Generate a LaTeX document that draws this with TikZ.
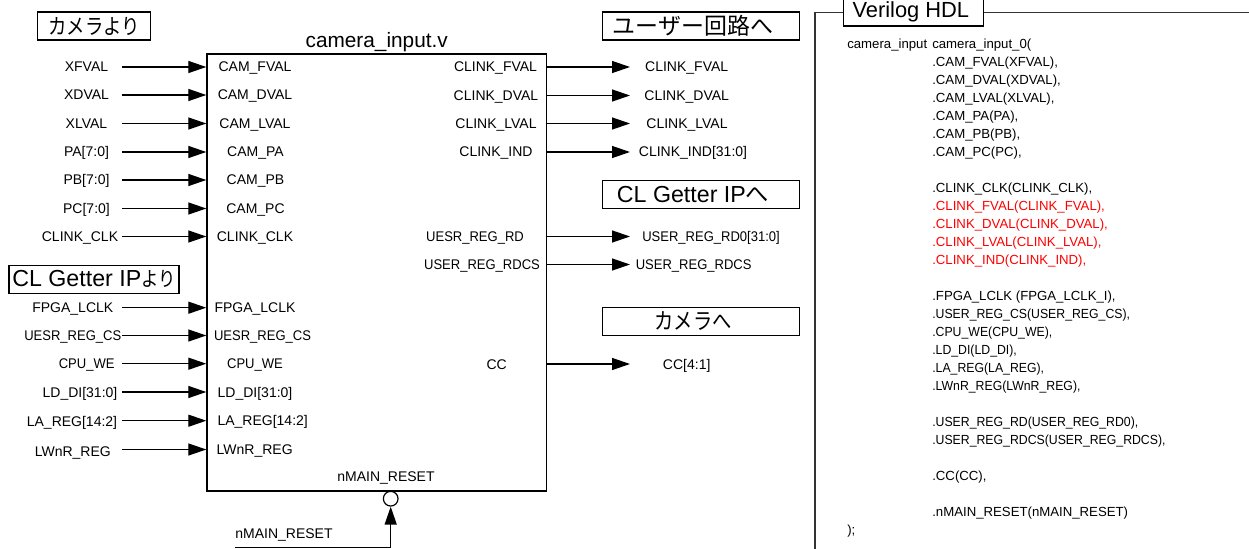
\documentclass[tikz,border=0pt]{standalone}
\usepackage{fontspec}
\setmainfont{Liberation Sans}
\newfontfamily\cjk{Noto Sans CJK JP}
\newfontfamily\cjknarrow{Noto Sans CJK JP}[FakeStretch=0.85]
\newfontfamily\tightf{Liberation Sans}[FakeStretch=0.93]
\usepackage{tikz}
\usetikzlibrary{arrows.meta, positioning}
\newcommand{\fsz}[1]{\fontsize{#1}{#1}\selectfont}

\begin{document}
\begin{tikzpicture}[
  x=0.75pt, y=-0.75pt,
  every node/.style={inner sep=0pt},
  sig/.style={font=\fsz{10.5}, text height=9.5pt, text depth=2pt},
  sigtight/.style={font=\fsz{10.5}\tightf, text height=9.5pt, text depth=2pt},
  block/.style={rectangle, draw=black, line width=1pt, minimum width=254.6pt, minimum height=327.8pt},
  titlebox/.style={rectangle, draw=black, fill=white, line width=0.9pt, minimum height=21pt, align=center},
  sigarrow/.style={-{Triangle[length=13.5pt, width=9pt]}, line width=1pt}
]
\useasboundingbox (0,0) rectangle (1249,549);

% Module
\node[block] (camblock) at (376.7,272.5) {};
\node[above=1pt of camblock, font=\fsz{15.6}] (camtitle) {camera\_input.v};
\coordinate (instart) at (122,67);
\coordinate (outend) at (630,67);

% Headings
\node[titlebox, minimum width=84.8pt, font=\fsz{16.2}\cjknarrow] (fromcam) at (94,26) {カメラより};
\node[titlebox, minimum width=127.5pt, font=\fsz{17.4}] (fromgetter) at (94,279.3) {CL Getter IP{\fsz{15.3}\cjknarrow より}};
\node[titlebox, minimum width=147.5pt, font=\fsz{17.2}\cjk] (touser) at (701,26) {ユーザー回路へ\hspace*{12pt}};
\node[titlebox, minimum width=147.5pt, font=\fsz{17.4}] (togetter) at (701,194.7) {CL Getter IP{\cjk へ}\hspace*{12pt}};
\node[titlebox, minimum width=147.5pt, font=\fsz{17}\cjknarrow] (tocam) at (701,321.3) {カメラへ\hspace*{12pt}};

% Input ports
\node[sig] (pfval) at (255,67) {CAM\_FVAL};
\node[sig] (pdval) at (255,95) {CAM\_DVAL};
\node[sig] (plval) at (255,123.5) {CAM\_LVAL};
\node[sig] (ppa) at (255.5,152) {CAM\_PA};
\node[sig] (ppb) at (255.5,180) {CAM\_PB};
\node[sig] (ppc) at (255.5,208.5) {CAM\_PC};
\node[sig] (pclk) at (255,236.5) {CLINK\_CLK};
\node[sig] (plclk) at (255,307.7) {FPGA\_LCLK};
\node[sigtight] (pcs) at (262.5,335.5) {UESR\_REG\_CS};
\node[sigtight] (pwe) at (255,363.7) {CPU\_WE};
\node[sig] (pdi) at (255,392) {LD\_DI[31:0]};
\node[sig] (pla) at (262.7,420.7) {LA\_REG[14:2]};
\node[sig] (plwnr) at (254.7,449.5) {LWnR\_REG};

% Input signals
\node[sig] (xfval) at (86.5,67) {XFVAL};
\node[sig] (xdval) at (86.5,95) {XDVAL};
\node[sig] (xlval) at (86.5,123.5) {XLVAL};
\node[sig] (pain) at (86.5,152) {PA[7:0]};
\node[sig] (pbin) at (86.5,180) {PB[7:0]};
\node[sig] (pcin) at (86.5,208.5) {PC[7:0]};
\node[sig] (clkin) at (80,236.5) {CLINK\_CLK};
\node[sig] (lclkin) at (72.8,307.7) {FPGA\_LCLK};
\node[sigtight] (csin) at (72.8,335.5) {UESR\_REG\_CS};
\node[sigtight] (wein) at (86.7,363.7) {CPU\_WE};
\node[sig] (diin) at (80,392) {LD\_DI[31:0]};
\node[sig] (lain) at (72,421.5) {LA\_REG[14:2]};
\node[sig] (lwnrin) at (72.8,451.7) {LWnR\_REG};

% Output ports
\node[sig] (pofval) at (495.5,67) {CLINK\_FVAL};
\node[sig] (podval) at (496,95.5) {CLINK\_DVAL};
\node[sig] (polval) at (496,123.5) {CLINK\_LVAL};
\node[sig] (poind) at (496,152) {CLINK\_IND};
\node[sigtight] (pord) at (475,236.5) {UESR\_REG\_RD};
\node[sigtight] (pordcs) at (482,264.5) {USER\_REG\_RDCS};
\node[sig] (pocc) at (496.7,364) {CC};

% Output signals
\node[sig] (fvalout) at (686.7,67) {CLINK\_FVAL};
\node[sig] (dvalout) at (686.7,95.5) {CLINK\_DVAL};
\node[sig] (lvalout) at (687,123.5) {CLINK\_LVAL};
\node[sig] (indout) at (693,152) {CLINK\_IND[31:0]};
\node[sigtight] (rdout) at (711,236.5) {USER\_REG\_RD0[31:0]};
\node[sigtight] (rdcsout) at (693.7,264.5) {USER\_REG\_RDCS};
\node[sig] (ccout) at (686.7,364) {CC[4:1]};

% Input arrows
\draw[sigarrow] (pfval -| instart) -- (pfval -| camblock.west);
\draw[sigarrow] (pdval -| instart) -- (pdval -| camblock.west);
\draw[sigarrow] (plval -| instart) -- (plval -| camblock.west);
\draw[sigarrow] (ppa -| instart) -- (ppa -| camblock.west);
\draw[sigarrow] (ppb -| instart) -- (ppb -| camblock.west);
\draw[sigarrow] (ppc -| instart) -- (ppc -| camblock.west);
\draw[sigarrow] (pclk -| instart) -- (pclk -| camblock.west);
\draw[sigarrow] (plclk -| instart) -- (plclk -| camblock.west);
\draw[sigarrow] (pcs -| instart) -- (pcs -| camblock.west);
\draw[sigarrow] (pwe -| instart) -- (pwe -| camblock.west);
\draw[sigarrow] (pdi -| instart) -- (pdi -| camblock.west);
\draw[sigarrow] (pla -| instart) -- (pla -| camblock.west);
\draw[sigarrow] (plwnr -| instart) -- (plwnr -| camblock.west);

% Output arrows
\draw[sigarrow] (pofval -| camblock.east) -- (pofval -| outend);
\draw[sigarrow] (podval -| camblock.east) -- (podval -| outend);
\draw[sigarrow] (polval -| camblock.east) -- (polval -| outend);
\draw[sigarrow] (poind -| camblock.east) -- (poind -| outend);
\draw[sigarrow] (pord -| camblock.east) -- (pord -| outend);
\draw[sigarrow] (pordcs -| camblock.east) -- (pordcs -| outend);
\draw[sigarrow] (pocc -| camblock.east) -- (pocc -| outend);

% Reset
\node[sig] (preset) at (386,476.7) {nMAIN\_RESET};
\node[sig] (resetin) at (284,533) {nMAIN\_RESET};
\node[circle, draw=black, line width=0.9pt, minimum size=11pt] (resetbub) at (390.7,498.7) {};
\coordinate (resetstart) at (235,547.5);
\draw[sigarrow] (resetstart) -| (resetbub.south);

% Verilog instance
\coordinate (framebot) at (815,549);
\coordinate (frameend) at (1249,12.5);
\draw[line width=1.2pt, draw=black!80] (framebot) |- (frameend);
\node[titlebox, minimum width=105.5pt, font=\fsz{16.4}] (hdlbox) at (913.5,12) {Verilog HDL\hspace*{4pt}};
\node[anchor=west, font=\fsz{9.9}, text height=8.9pt, text depth=2pt] (hdlinst) at (847,44) {camera\_input};
\node[anchor=north west, align=left, font=\fontsize{9.9}{13.5}\selectfont] (hdlports) at (932,39) {
camera\_input\_0(\\
.CAM\_FVAL(XFVAL),\\
.CAM\_DVAL(XDVAL),\\
.CAM\_LVAL(XLVAL),\\
.CAM\_PA(PA),\\
.CAM\_PB(PB),\\
.CAM\_PC(PC),\\[13.5pt]
.CLINK\_CLK(CLINK\_CLK),\\
\textcolor{red}{.CLINK\_FVAL(CLINK\_FVAL),}\\
\textcolor{red}{.CLINK\_DVAL(CLINK\_DVAL),}\\
\textcolor{red}{.CLINK\_LVAL(CLINK\_LVAL),}\\
\textcolor{red}{.CLINK\_IND(CLINK\_IND),}\\[13.5pt]
.FPGA\_LCLK (FPGA\_LCLK\_I),\\
{\tightf .USER\_REG\_CS(USER\_REG\_CS),}\\
{\tightf .CPU\_WE(CPU\_WE),}\\
{\tightf .LD\_DI(LD\_DI),}\\
{\tightf .LA\_REG(LA\_REG),}\\
{\tightf .LWnR\_REG(LWnR\_REG),}\\[13.5pt]
{\tightf .USER\_REG\_RD(USER\_REG\_RD0),}\\
{\tightf .USER\_REG\_RDCS(USER\_REG\_RDCS),}\\[13.5pt]
.CC(CC),\\[13.5pt]
.nMAIN\_RESET(nMAIN\_RESET)
};
\node[anchor=west, font=\fsz{9.9}, text height=8.9pt, text depth=2pt] (hdlend) at (847,530) {);};

\end{tikzpicture}
\end{document}
